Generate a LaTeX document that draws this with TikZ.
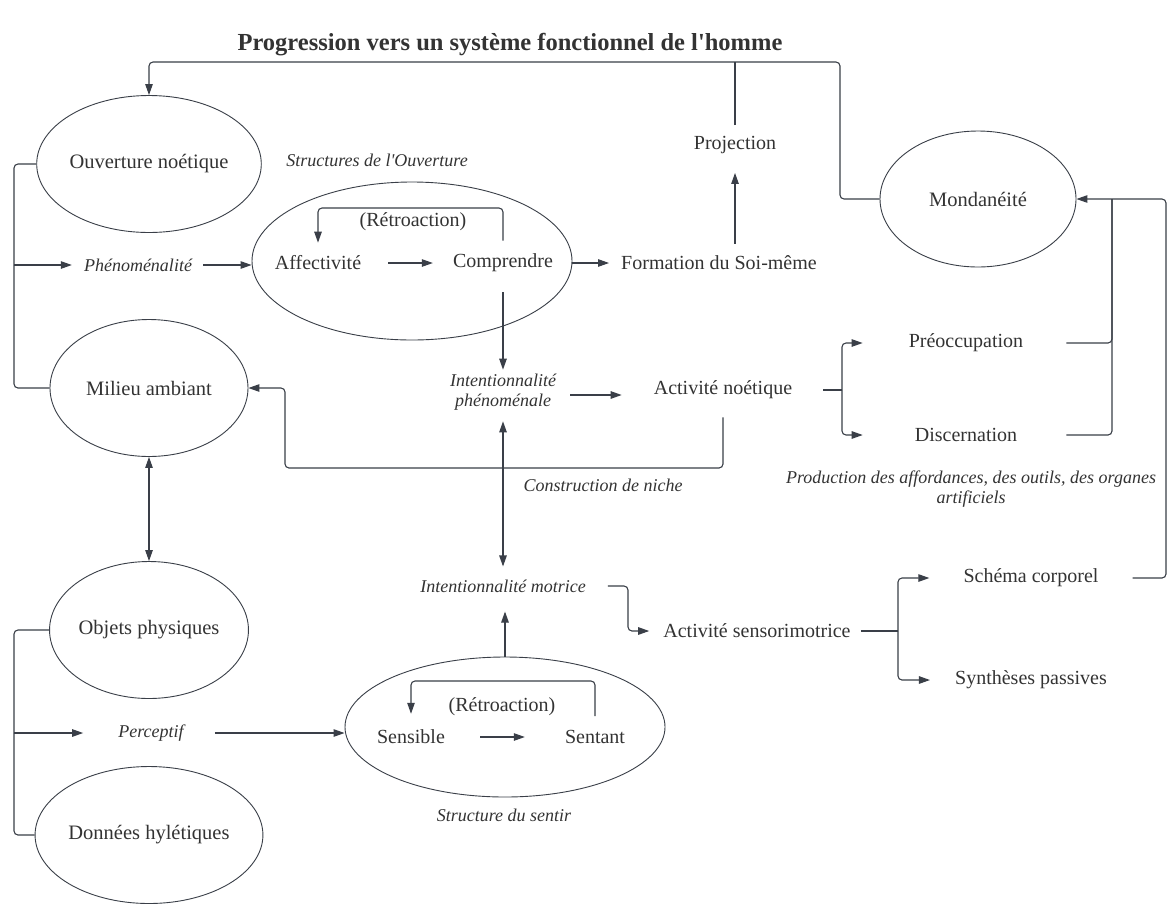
\documentclass[tikz,border=0pt]{standalone}
\usepackage{fontspec}
\setmainfont{Liberation Serif}[Ligatures=TeXOff]
\usetikzlibrary{arrows.meta,shapes.geometric,calc}
\definecolor{lc}{HTML}{3A3F48}
\definecolor{tx}{HTML}{333333}
\begin{document}
\begin{tikzpicture}[x=1pt,y=-1pt,
 every node/.style={text=tx},
 txt/.style={font=\fontsize{20}{24}\selectfont, inner sep=2pt},
 itx/.style={font=\fontsize{18}{20}\selectfont\itshape, inner sep=2pt, align=center},
 ov/.style={ellipse, draw=lc, line width=0.9pt, inner sep=0pt, minimum width=198pt, minimum height=137pt, font=\fontsize{20.5}{24}\selectfont},
 conn/.style={draw=lc, line width=1.1pt, rounded corners=4pt},
 arr/.style={conn, -{Triangle[length=11pt,width=7.5pt]}},
 darr/.style={conn, {Triangle[length=11pt,width=7.5pt]}-{Triangle[length=11pt,width=7.5pt]}},
]
\useasboundingbox[fill=white] (0,0) rectangle (1169,903);

% title
\node[font=\fontsize{24.5}{28}\selectfont\bfseries] (title) at (510,45) {Progression vers un système fonctionnel de l'homme};

% ellipses
\node[ov] (ouv) at (149,164) {Ouverture noétique};
\node[ov] (mil) at (149,388) {Milieu ambiant};
\node[ov] (obj) at (149,630) {Objets physiques};
\node[ov] (don) at (149,835) {Données hylétiques};
\node[ov, minimum width=196pt, minimum height=136pt] (mond) at (978,199) {Mondanéité};
\node[ov, minimum width=320pt, minimum height=158pt] (bigA) at (412,261) {};
\node[ov, minimum width=320pt, minimum height=140pt] (bigS) at (505,727) {};

% texts
\node[itx] (structO) at (377,160) {Structures de l'Ouverture};
\node[txt] (retroA) at (413,222) {(Rétroaction)};
\node[txt] (aff) at (318,263) {Affectivité};
\node[txt] (comp) at (503,263) {Comprendre};
\node[txt] (form) at (719,263) {Formation du Soi-même};
\node[txt] (proj) at (735,145) {Projection};
\node[itx] (phen) at (138,265) {Phénoménalité};
\node[itx] (intP) at (503,392) {Intentionnalité\\phénoménale};
\node[txt] (actN) at (723,390) {Activité noétique};
\node[txt] (preo) at (966,343) {Préoccupation};
\node[txt] (disc) at (966,435) {Discernation};
\node[itx] (prod) at (971,489) {Production des affordances, des outils, des organes\\artificiels};
\node[itx] (niche) at (603,485) {Construction de niche};
\node[itx] (intM) at (503,586) {Intentionnalité motrice};
\node[txt] (actS) at (757,631) {Activité sensorimotrice};
\node[txt] (schema) at (1031,578) {Schéma corporel};
\node[txt] (synth) at (1031,680) {Synthèses passives};
\node[itx] (perc) at (151,733) {Perceptif};
\node[txt] (retroS) at (502,707) {(Rétroaction)};
\node[txt] (sensible) at (411,737) {Sensible};
\node[txt] (sentant) at (595,737) {Sentant};
\node[itx] (structS) at (504,815) {Structure du sentir};

% junction coordinates
\coordinate (tj) at (735,62);
\coordinate (mc) at (840,199);
\coordinate (fbA) at (410,208);
\coordinate (jP) at (14,265);
\coordinate (jQ) at (14,733);
\coordinate (nc) at (285,468);
\coordinate (jm) at (628,608);
\coordinate (fbS) at (500,681);
\coordinate (bN) at (842,390);
\coordinate (bS) at (898,631);
\coordinate (rv) at (1112,199);
\coordinate (rr) at (1166,199);

% top loop
\draw[arr] (mond.west) -- (mc) |- (tj) -| (ouv.north);
\draw[conn] ($(proj.north)+(0,-9)$) -- (tj);
\draw[arr] ($(proj.south |- form.north)+(0,-10)$) -- ($(proj.south)+(0,17)$);

% structures de l'ouverture
\draw[arr] ($(comp.north)+(0,-11)$) |- (fbA) -| ($(aff.north)+(0,-11)$);
\draw[arr] ($(aff.east)+(25,0)$) -- ($(comp.west)+(-18,0)$);
\draw[arr] (bigA.east |- comp) -- ($(form.west)+(-10,0)$);

% left bracket phen
\draw[conn] (ouv.west) -| (jP);
\draw[conn] (mil.west) -| (jP);
\draw[arr] (jP) -- ($(phen.west)+(-10,0)$);
\draw[arr] ($(phen.east)+(9,0)$) -- (phen.east -| bigA.west);

% centre column
\draw[arr] ($(comp.south)+(0,18)$) -- ($(intP.north)+(0,-2)$);
\draw[arr] ($(intP.east)+(12,3)$) -- ($(actN.west)+(-30,5)$);
\draw[darr] ($(intP.south)+(0,9)$) -- ($(intM.north)+(0,-11)$);
\draw[arr] (bigS.north) -- ($(bigS.north |- intM.south)+(0,17)$);
\draw[arr] ($(intM.east)+(20,0)$) -| (jm) |- ($(actS.west)+(-12,0)$);

% niche construction
\draw[arr] ($(actN.south)+(0,16)$) |- (nc) |- (mil.east);
\draw[darr] (mil.south) -- (obj.north);

% perceptif bracket
\draw[conn] (obj.west) -| (jQ);
\draw[conn] (don.west) -| (jQ);
\draw[arr] (jQ) -- ($(perc.west)+(-33,0)$);
\draw[arr] ($(perc.east)+(29,0)$) -- (perc.east -| bigS.west);

% structure du sentir
\draw[arr] ($(sentant.north)+(0,-12)$) |- (fbS) -| ($(sensible.north)+(0,-14)$);
\draw[arr] ($(sensible.east)+(33,0)$) -- ($(sentant.west)+(-38,0)$);

% right side
\draw[conn] ($(actN.east)+(29,0)$) -- (bN);
\draw[arr] (bN) |- ($(preo.west)+(-44,0)$);
\draw[arr] (bN) |- ($(disc.west)+(-50,0)$);
\draw[conn] ($(preo.east)+(41,0)$) -| (rv);
\draw[conn] ($(disc.east)+(47,0)$) -| (rv);
\draw[arr] ($(schema.east)+(32,0)$) -| (rr) -- (mond.east);
\draw[conn] ($(actS.east)+(8,0)$) -- (bS);
\draw[arr] (bS) |- ($(schema.west)+(-32,0)$);
\draw[arr] (bS) |- ($(synth.west)+(-23,0)$);
\end{tikzpicture}
\end{document}
